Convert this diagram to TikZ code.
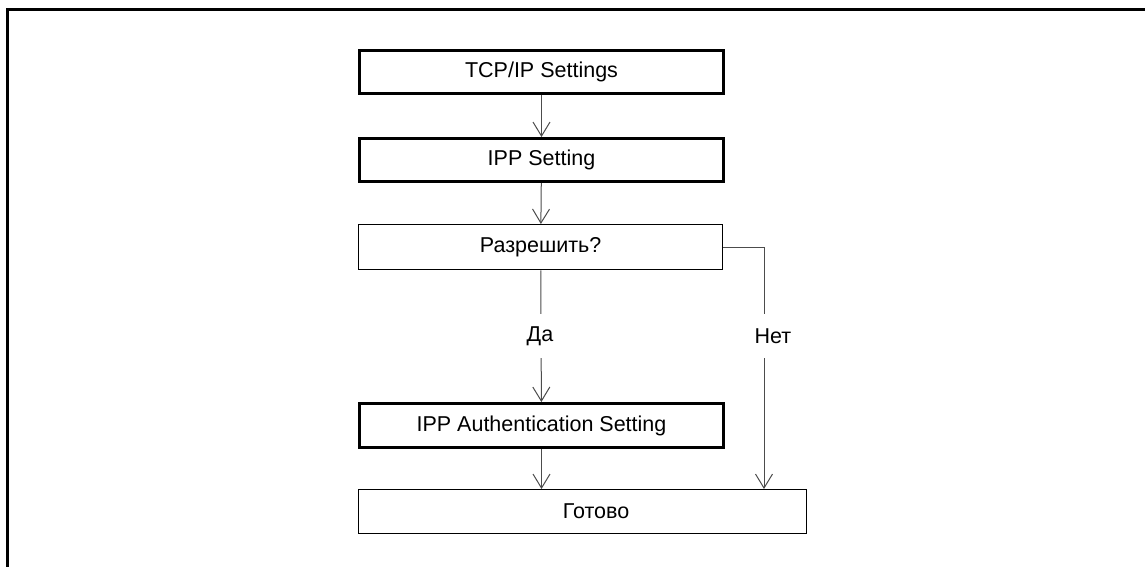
\documentclass[tikz,border=0pt]{standalone}
\usepackage{fontspec}
\setmainfont{Liberation Sans}
\usetikzlibrary{arrows.meta}
\begin{document}
\begin{tikzpicture}[x=1pt,y=-1pt,
  boxbase/.style={draw=black, rectangle, inner sep=0pt, font=\fontsize{21.5}{25}\selectfont, anchor=north west},
  thickbox/.style={boxbase, line width=3pt},
  thinbox/.style={boxbase, line width=1.3pt},
  conn/.style={draw=black!70, line width=1pt, -{Straight Barb[length=14pt,width=17pt,line width=1pt]}},
  lbl/.style={fill=white, inner xsep=4pt, inner ysep=0pt, minimum height=44pt, font=\fontsize{21.5}{25}\selectfont},
  frame/.style={line width=3pt, black}]
\useasboundingbox (0,0) rectangle (1145,567);
\draw[frame] (7.7,580) -- (7.7,10) -- (1150,10);
\node[thickbox, minimum width=364pt, minimum height=43pt] (b1) at (358,49) {TCP/IP Settings};
\node[thickbox, minimum width=364pt, minimum height=43pt] (b2) at (358,137) {IPP Setting};
\node[thinbox, minimum width=364pt, minimum height=45pt] (b3) at (358,224) {Разрешить?};
\node[thickbox, minimum width=364pt, minimum height=44pt] (b4) at (358,402) {IPP Authentication Setting};
\node[thinbox, minimum width=448pt, minimum height=44pt] (b5) at (358,489) {};
\node[font=\fontsize{21.5}{25}\selectfont] (t5) at (596,511) {Готово};
\coordinate (nt) at (764,489);
\draw[conn] (b1) -- (b2);
\draw[conn] (b2) -- (b3);
\draw[conn] (b3) -- (b4);
\draw[conn] (b4.south) -- (b4.south |- b5.north);
\draw[conn] (b3.east) -| (nt);
\node[lbl] (da) at (540,336) {Да};
\node[lbl] (net) at (773,336) {Нет};
\end{tikzpicture}
\end{document}
